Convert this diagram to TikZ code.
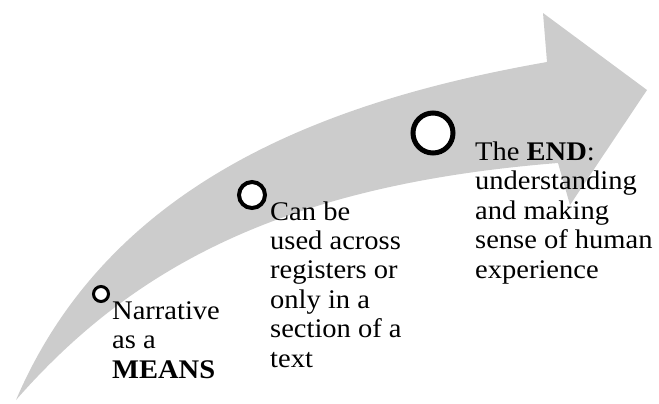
\documentclass[tikz,border=0pt]{standalone}
\usepackage{fontspec}
\setmainfont{Liberation Serif}[FakeStretch=1.06]
\definecolor{arrowgray}{RGB}{204,204,204}
\tikzset{
  stage/.style={circle, draw=black, fill=white, inner sep=0pt},
  stagetext/.style={font=\fontsize{27}{29.5}\selectfont, align=left, inner sep=0pt, anchor=base west}
}
\begin{document}
\begin{tikzpicture}[x=1bp, y=-1bp]
\useasboundingbox (0,0) rectangle (659,403);
% curved arrow
\fill[arrowgray] (16,400) .. controls (110,180) and (330,100) .. (547,62) -- (543,13) -- (647,90) -- (570,205) -- (558,163) .. controls (280,185) and (130,270) .. (16,400) -- cycle;
% stages
\node[stage, minimum size=15bp, line width=3bp] (c1) at (101,294) {};
\node[stage, minimum size=26bp, line width=4bp] (c2) at (252,195) {};
\node[stage, minimum size=40bp, line width=5bp] (c3) at (433,133) {};
\node[stagetext] (t1) at (112,378) {Narrative\\as a\\\textbf{MEANS}};
\node[stagetext] (t2) at (270,367) {Can be\\used across\\registers or\\only in a\\section of a\\text};
\node[stagetext] (t3) at (475,278) {The \textbf{END}:\\understanding\\and making\\sense of human\\experience};
\end{tikzpicture}
\end{document}
